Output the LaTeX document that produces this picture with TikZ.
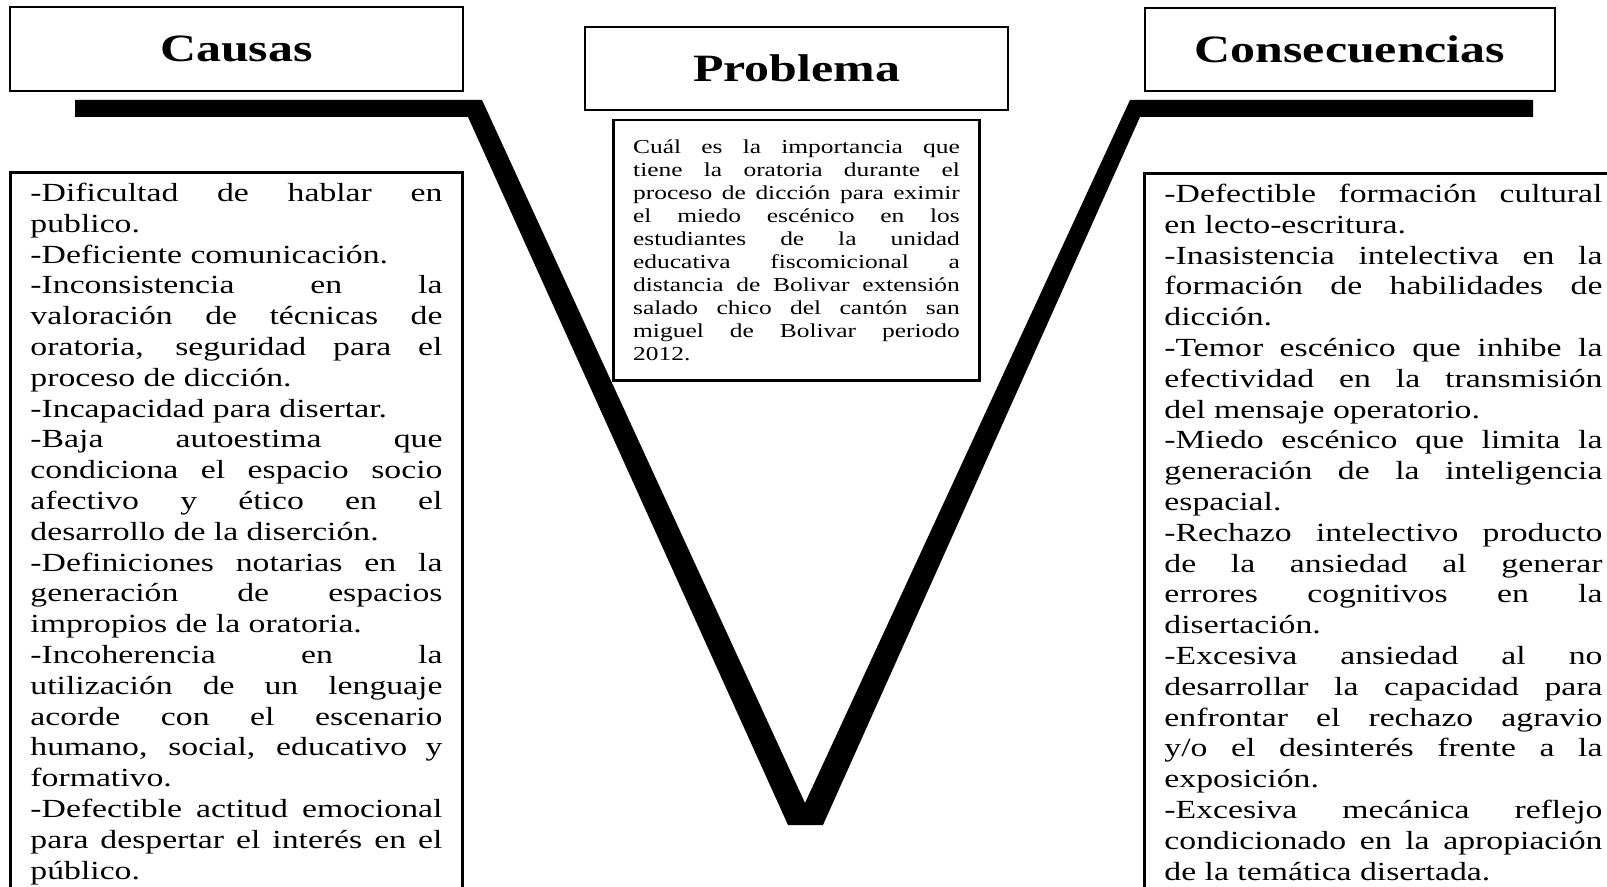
\documentclass[tikz,border=0pt]{standalone}
\usepackage{fontspec}
\setmainfont{Liberation Serif}[FakeStretch=1.29]
\usetikzlibrary{positioning}
\tolerance=10000
\hyphenpenalty=10000

\begin{document}
\begin{tikzpicture}[
  x=0.75pt, y=-0.75pt,
  every node/.style={inner sep=0pt},
  frame/.style={draw, line width=2.2pt},
  title/.style={frame, font=\fontsize{29}{34}\selectfont\bfseries},
  listbox/.style={frame, anchor=north west, align=justify, inner xsep=15pt,
                  inner ysep=8pt, font=\fontsize{19.6}{23.1}\selectfont},
  probbox/.style={frame, align=justify, inner xsep=15pt, inner ysep=14.5pt,
                  text width=245pt, font=\fontsize{14.8}{17.3}\selectfont}
]
  \useasboundingbox (0,0) rectangle (1607,887);

  \fill[black] (75,100) -- (482,100) -- (805,803) -- (1130,100) -- (1533,100)
    -- (1533,117) -- (1140,117) -- (823,825) -- (788,825) -- (468,117)
    -- (75,117) -- cycle;

  \node[title, minimum width=339.75pt, minimum height=63pt] (causas) at (236.5,49) {Causas};
  \node[title, minimum width=317.25pt, minimum height=62.25pt] (problema) at (796.5,68.5) {Problema};
  \node[title, minimum width=307.5pt, minimum height=62.25pt] (consec) at (1350,49.5) {Consecuencias};

  \node[probbox, below=5.3pt of problema] (pregunta) {%
    Cuál es la importancia que\linebreak
    tiene la oratoria durante el\linebreak
    proceso de dicción  para eximir\linebreak
    el miedo escénico en los\linebreak
    estudiantes de la unidad\linebreak
    educativa fiscomicional a\linebreak
    distancia de Bolivar extensión\linebreak
    salado chico del cantón san\linebreak
    miguel de Bolivar periodo\linebreak
    2012.};

  \node[listbox, text width=309pt] (causaslist) at (9,171) {%
    -Dificultad de hablar en\linebreak
    publico.\par
    -Deficiente  comunicación.\par
    -Inconsistencia en la\linebreak
    valoración de técnicas de\linebreak
    oratoria, seguridad  para el\linebreak
    proceso de dicción.\par
    -Incapacidad para disertar.\par
    -Baja autoestima que\linebreak
    condiciona el espacio socio\linebreak
    afectivo y ético en el\linebreak
    desarrollo de la diserción.\par
    -Definiciones notarias en la\linebreak
    generación de espacios\linebreak
    impropios de la oratoria.\par
    -Incoherencia en la\linebreak
    utilización de un lenguaje\linebreak
    acorde con el escenario\linebreak
    humano, social, educativo y\linebreak
    formativo.\par
    -Defectible actitud emocional\linebreak
    para despertar el interés en el\linebreak
    público.\rule[-30pt]{0pt}{0pt}};

  \node[listbox, text width=328.5pt] (consecList) at (1143,172) {%
    -Defectible formación cultural\linebreak
    en lecto-escritura.\par
    -Inasistencia intelectiva en la\linebreak
    formación de habilidades de\linebreak
    dicción.\par
    -Temor escénico que inhibe la\linebreak
    efectividad en la transmisión\linebreak
    del mensaje  operatorio.\par
    -Miedo escénico que limita la\linebreak
    generación de la inteligencia\linebreak
    espacial.\par
    -Rechazo intelectivo producto\linebreak
    de la ansiedad al generar\linebreak
    errores cognitivos en la\linebreak
    disertación.\par
    -Excesiva ansiedad al no\linebreak
    desarrollar la capacidad para\linebreak
    enfrontar el rechazo agravio\linebreak
    y/o el desinterés frente a  la\linebreak
    exposición.\par
    -Excesiva mecánica reflejo\linebreak
    condicionado en la apropiación\linebreak
    de la temática disertada.\rule[-30pt]{0pt}{0pt}};
\end{tikzpicture}
\end{document}
